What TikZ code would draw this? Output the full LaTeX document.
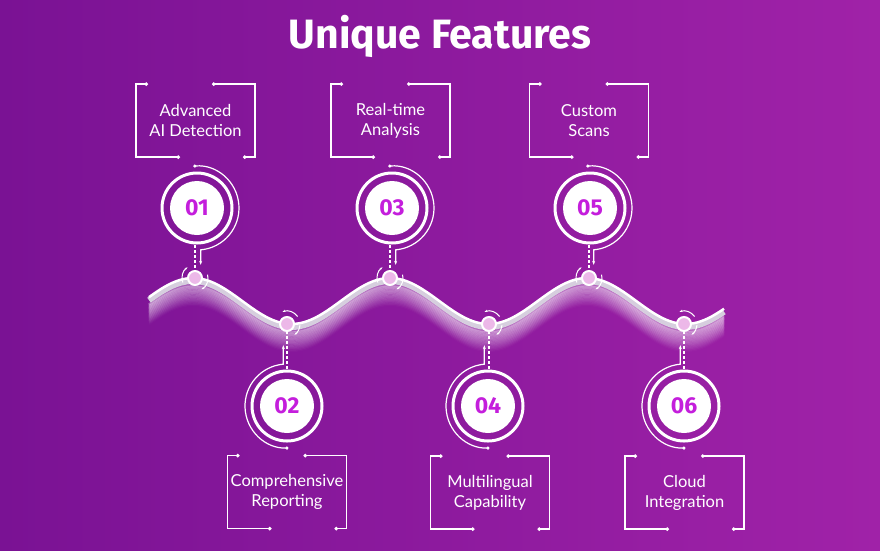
\documentclass[tikz,border=0pt]{standalone}
\usepackage{fontspec}
\setmainfont{Lato}
\newfontfamily\headfont{Fira Sans}
\usetikzlibrary{arrows.meta}

\definecolor{bgleft}{RGB}{122,18,148}
\definecolor{bgright}{RGB}{160,34,168}
\definecolor{numpink}{RGB}{196,30,220}
\definecolor{dotpink}{RGB}{236,184,232}
\definecolor{ribbon}{RGB}{214,206,222}

\begin{document}
\begin{tikzpicture}[x=1pt, y=1pt,
    declare function={wy(\x)=-301+23*cos(1.8274*(\x-193));},
    feature/.style={text=white, font=\fontsize{16.5}{20}\selectfont, align=center,
      minimum width=119, minimum height=73, inner sep=0, outer sep=0},
    num/.style={circle, fill=white, minimum size=54, inner sep=0, outer sep=10,
      text=numpink, font=\headfont\bfseries\fontsize{23}{23}\selectfont},
    ring/.style={draw=white, line width=3},
    marker/.style={circle, fill=dotpink, draw=white, line width=2, minimum size=14, inner sep=0},
    link/.style={white, line width=1.2},
    guide/.style={white, line width=1.2, dash pattern=on 3pt off 2pt},
    bracket/.style={white, line width=1.2, {Circle[length=3.5pt]}-{Circle[length=3.5pt]}}]

    % background and title
    \shade[left color=bgleft, right color=bgright] (0,0) rectangle (880,-550);
    \useasboundingbox (0,0) rectangle (880,-550);
    \node[text=white, font=\headfont\bfseries\fontsize{41}{41}\selectfont] (title) at (440,-36) {Unique Features};

    % the wave
    \foreach \k in {1,...,16}
      \draw[white, opacity={0.34-0.02*\k}, line width=2.5] plot[domain=149:724, samples=150] (\x, {wy(\x)-6-1.3*\k});
    \draw[ribbon, line width=6] plot[domain=149:724, samples=150] (\x, {wy(\x)-3});
    \draw[white, line width=2.5] plot[domain=149:724, samples=150] (\x, {wy(\x)});

    % markers on the wave
    \node[marker] (m1) at (195,-278) {};
    \node[marker] (m2) at (287,-324) {};
    \node[marker] (m3) at (390,-278) {};
    \node[marker] (m4) at (489,-324) {};
    \node[marker] (m5) at (589,-278) {};
    \node[marker] (m6) at (684,-324) {};
    \foreach \m in {m1,m3,m5} {
      \draw[link, line width=1, -{Stealth[length=3pt]}] ([shift={(200:13)}]\m.center) arc[start angle=200, end angle=125, radius=13];
      \draw[link, line width=1, -{Stealth[length=3pt]}] ([shift={(15:13)}]\m.center) arc[start angle=15, end angle=-60, radius=13];
    }
    \foreach \m in {m2,m4,m6} {
      \draw[link, line width=1, -{Stealth[length=3pt]}] ([shift={(35:13)}]\m.center) arc[start angle=35, end angle=110, radius=13];
      \draw[link, line width=1, -{Stealth[length=3pt]}] ([shift={(-5:13)}]\m.center) arc[start angle=-5, end angle=-55, radius=13];
    }

    % numbers
    \node[num] (n1) at (197,-208) {01};
    \node[num] (n2) at (287,-406) {02};
    \node[num] (n3) at (392,-208) {03};
    \node[num] (n4) at (488,-406) {04};
    \node[num] (n5) at (590,-208) {05};
    \node[num] (n6) at (684,-406) {06};
    \foreach \n in {n1,n2,n3,n4,n5,n6}
      \draw[ring] (\n.center) circle[radius=35];
    \foreach \n/\m in {n1/m1, n3/m3, n5/m5} {
      \draw[link, {Circle[length=3pt]}-{Stealth[length=4pt]}] ([shift={(95:42)}]\n.center)
        arc[start angle=95, end angle=-85, radius=42] -- ++(0,-15);
      \draw[guide] (\n.south -| \m) -- (\m);
    }
    \foreach \n/\m in {n2/m2, n4/m4, n6/m6} {
      \draw[link, {Circle[length=3pt]}-{Stealth[length=4pt]}] ([shift={(-88:42)}]\n.center)
        arc[start angle=-88, end angle=-265, radius=42] -- ++(0,19);
      \draw[guide] (\n.north -| \m) -- (\m);
    }

    % feature texts
    \node[feature] (b1) at (195.5,-120.5) {Advanced\\AI Detection};
    \node[feature] (b2) at (287,-492) {Comprehensive\\Reporting};
    \node[feature] (b3) at (390.5,-120.5) {Real-time\\Analysis};
    \node[feature] (b4) at (490,-492.5) {Multilingual\\Capability};
    \node[feature] (b5) at (589,-120.5) {Custom\\Scans};
    \node[feature] (b6) at (684.5,-492.5) {Cloud\\Integration};
    \foreach \b in {b1,b2,b3,b4,b5,b6} {
      \draw[bracket] ([xshift=12]\b.north west) -- (\b.north west) -- (\b.south west) -- ++(44,0);
      \draw[bracket] ([xshift=-43]\b.north east) -- (\b.north east) -- (\b.south east) -- ++(-12,0);
    }
\end{tikzpicture}
\end{document}
